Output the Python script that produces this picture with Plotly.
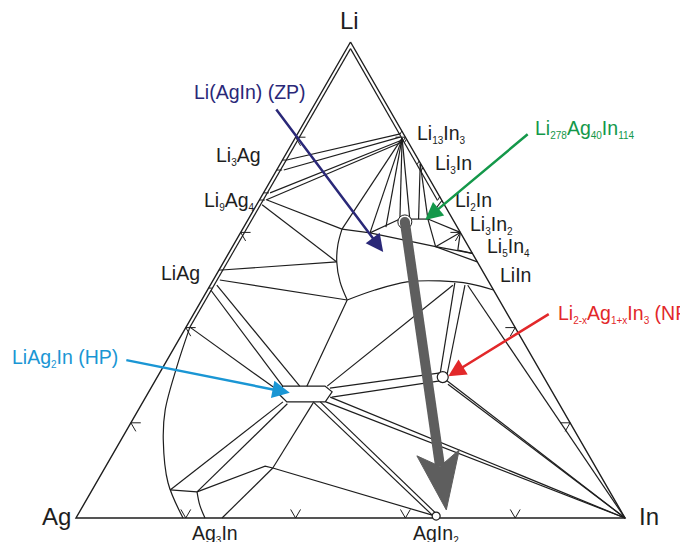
import math
import plotly.graph_objects as go

# ---------------- data: compositions in at.% as (Li, In); Ag = 100 - Li - In ----------------
triangle = [(100, 0), (0, 0), (0, 100), (100, 0)]

bcc_li_solubility = [
    [(98.6, 0.7), (40.1, 0.7)],          # along Li-Ag side
    [(98.6, 0.7), (66.7, 32.5)],         # along Li-In side
]

edge_phase_marks = [
    [(75.2, 0), (75.2, 0.8)], [(73.1, 0), (73.1, 1.0)],
    [(68.3, 0), (68.3, 1.0)], [(66.8, 0), (66.8, 1.0)],
    [(52.1, 0), (52.1, 0.6)], [(48.3, 0), (48.3, 0.6)],
    [(81.3, 18.7), (80.6, 18.7)], [(79.6, 20.4), (78.9, 20.4)],
    [(75.0, 25.0), (74.3, 25.0)], [(73.6, 26.4), (72.9, 26.4)],
    [(67.5, 32.5), (66.8, 32.5)],
]

li13in3_to_li_ag = [
    [(80.7, 18.7), (75.2, 0.8)],
    [(80.0, 19.0), (73.1, 1.3)],
    [(79.4, 19.7), (68.3, 1.2)],
    [(79.0, 19.9), (66.8, 1.2)],
]

li_in_fan = [
    [(79.8, 19.5), (60.7, 18.1)],
    [(79.8, 19.5), (59.9, 23.6)],
    [(79.8, 19.5), (61.1, 25.9)],
    [(79.8, 19.5), (62.8, 27.6)],
    [(79.8, 19.5), (62.8, 29.4)],
    [(74.4, 25.5), (62.8, 31.0)],
    [(74.4, 25.5), (62.8, 32.7)],
    [(66.7, 33.3), (62.8, 32.7)],
    [(62.8, 27.6), (62.8, 32.7)],
    [(62.8, 32.7), (60.0, 40.0)],
    [(62.8, 32.7), (57.0, 37.0)],
    [(57.0, 37.0), (60.0, 40.0)],
    [(57.0, 37.0), (55.6, 44.4)],
    [(60.0, 40.0), (56.3, 41.4), (55.6, 44.4)],
    [(60.7, 18.1), (59.9, 23.6), (62.8, 27.6)],
    [(59.9, 23.6), (57.0, 37.0), (53.8, 46.2)],
]

li_ag_ties = [
    [(66.8, 1.4), (60.7, 18.1)],
    [(65.8, 1.0), (53.8, 20.6)],
    [(52.1, 0.5), (53.8, 20.6)],
    [(50.0, 1.2), (45.8, 26.5)],
    [(48.9, 1.2), (27.7, 26.9)],
    [(47.9, 0.6), (27.7, 23.8)],
    [(40.1, 0.7), (26.5, 23.9)],
]

zp_left_arc = [(60.7, 18.1), (57.4, 19.0), (53.8, 20.6), (49.6, 23.3), (45.8, 26.5)]
zp_lower_arc = [(45.8, 26.5), (47.9, 30.5), (49.6, 35.5), (49.8, 41.4), (49.2, 47.2), (47.9, 52.1)]

hp_region = [(27.7, 23.8), (27.7, 31.5), (26.5, 33.4), (24.4, 33.2), (24.4, 26.2), (26.0, 24.0), (27.7, 23.8)]

hp_np_ties = [
    [(45.8, 26.5), (27.7, 28.2)],
    [(48.9, 44.2), (27.7, 31.9)],
    [(27.3, 32.6), (30.5, 51.1)],
    [(25.4, 33.9), (28.8, 51.9)],
    [(30.5, 51.1), (49.4, 44.3)],
    [(30.2, 52.5), (48.9, 46.4)],
    [(29.0, 52.9), (0, 100)],
    [(28.1, 53.7), (0, 100)],
    [(48.9, 46.9), (0, 100)],
    [(25.4, 33.6), (0, 100)],
    [(24.4, 33.3), (0, 100)],
    [(24.4, 31.0), (0.6, 64.6)],
    [(24.4, 32.3), (0.6, 65.6)],
]

ag_rich_ties = [
    [(24.2, 31.1), (10.5, 30.6)],
    [(24.4, 25.5), (5.9, 14.2)],
    [(24.0, 26.5), (5.5, 19.3)],
    [(5.9, 14.2), (5.5, 19.3)],
    [(5.5, 19.3), (10.9, 29.0), (10.5, 30.6)],
    [(10.5, 30.6), (0, 26.6)],
    [(10.5, 30.6), (0.6, 64.6)],
]
ag3in_boundary = [(5.5, 19.3), (2.7, 21.2), (0, 23.5)]
fcc_ag_arc = [(40.1, 0.7), (31.7, 2.5), (22.7, 4.9), (16.4, 7.7), (7.35, 13.1), (0, 19.5)]

np_point = [(29.6, 52.0)]
agin2_point = [(0.4, 65.4)]

# LT -> AgIn2 reaction path (grey arrow)
path_start = (62.2, 28.8)
path_end = (1.7, 66.6)

# arrow targets of the highlighted phases
zp_target = (55.9, 28.0)
li278_target = (62.6, 32.3)
np_target = (29.8, 52.9)
hp_target = (26.3, 25.8)

grid_ticks = [20, 40, 60, 80]

# ---------------- helpers ----------------
S3 = math.sqrt(3) / 2
INK = "#1e1e1e"
FONT = "Liberation Sans, Arial, sans-serif"
XR = [-2, 102]
YR = [-2, 100 * S3 + 2]


def to_xy(pts):
    xs = [inn + li / 2 for li, inn in pts]
    ys = [li * S3 for li, inn in pts]
    return xs, ys


def add_lines(fig, polylines, color=INK, width=1.2, shape="linear"):
    xs, ys = [], []
    for pl in polylines:
        x, y = to_xy(pl)
        xs += x + [None]
        ys += y + [None]
    fig.add_trace(go.Scatter(x=xs, y=ys, mode="lines", hoverinfo="skip",
                             line=dict(color=color, width=width, shape=shape)))


fig = go.Figure()

# ternary grid tick marks on the edges
tick_len = 1.8
ticks = []
for t in grid_ticks:
    ticks += [[(t, 0), (t, tick_len)], [(t, 0), (t - tick_len, tick_len)]]
    ticks += [[(0, t), (tick_len, t)], [(0, t), (tick_len, t - tick_len)]]
    ticks += [[(t, 100 - t), (t, 100 - t - tick_len)], [(t, 100 - t), (t - tick_len, 100 - t)]]
add_lines(fig, ticks, width=1.0)

add_lines(fig, [triangle], width=1.4)
add_lines(fig, bcc_li_solubility)
add_lines(fig, edge_phase_marks, width=1.0)
add_lines(fig, li13in3_to_li_ag)
add_lines(fig, li_in_fan)
add_lines(fig, li_ag_ties)
add_lines(fig, [zp_left_arc], shape="spline")
add_lines(fig, [zp_lower_arc], shape="spline")
add_lines(fig, [hp_region])
add_lines(fig, hp_np_ties)
add_lines(fig, ag_rich_ties)
add_lines(fig, [ag3in_boundary], shape="spline")
add_lines(fig, [fcc_ag_arc], shape="spline")

# small phase symbols
for pts, size in ((np_point, 11), (agin2_point, 8)):
    x, y = to_xy(pts)
    fig.add_trace(go.Scatter(x=x, y=y, mode="markers", hoverinfo="skip",
                             marker=dict(size=size, color="white", line=dict(color=INK, width=1.2))))

# grey reaction arrow
GREY = "#5e5e5e"
(sx,), (sy,) = to_xy([path_start])
(ex,), (ey,) = to_xy([path_end])
dx, dy = ex - sx, ey - sy
L = math.hypot(dx, dy)
ux, uy = dx / L, dy / L
nx, ny = -uy, ux
head_len, head_half, notch = 10.5, 3.9, 8.0
bx, by = ex - head_len * ux, ey - head_len * uy
mx, my = ex - notch * ux, ey - notch * uy
fig.add_trace(go.Scatter(x=[sx], y=[sy], mode="markers", hoverinfo="skip",
                         marker=dict(size=14, color="white", line=dict(color=INK, width=1))))
fig.add_trace(go.Scatter(x=[sx, mx], y=[sy, my], mode="lines", hoverinfo="skip",
                         line=dict(color=GREY, width=10)))
fig.add_trace(go.Scatter(x=[sx], y=[sy], mode="markers", hoverinfo="skip",
                         marker=dict(size=10, color=GREY)))
fig.add_trace(go.Scatter(
    x=[ex, bx + head_half * nx, mx, bx - head_half * nx, ex],
    y=[ey, by + head_half * ny, my, by - head_half * ny, ey],
    mode="lines", fill="toself", fillcolor=GREY, hoverinfo="skip",
    line=dict(color=GREY, width=1)))

# ---------------- text ----------------
annotations = []


def s(t):
    return "<sub><span style='font-size:10px'>" + t + "</span></sub>"


def label(text, x, y, xanchor="center", size=19.5, color=INK):
    # positions given in the plot's x/y units, placed via paper coordinates so that
    # labels outside the triangle's frame are still drawn
    annotations.append(dict(text=text,
                            x=(x - XR[0]) / (XR[1] - XR[0]),
                            y=(y - YR[0]) / (YR[1] - YR[0]),
                            xref="paper", yref="paper", showarrow=False,
                            xanchor=xanchor, yanchor="middle",
                            font=dict(family=FONT, size=size, color=color)))


label("Li", 49.9, 90.6, size=24)
label("Ag", -3.5, 0.2, size=24)
label("In", 104.4, 0.2, size=24)
label("Li" + s("13") + "In" + s("3"), 61.75, 69.9, "left")
label("Li" + s("3") + "In", 65.0, 64.4, "left")
label("Li" + s("2") + "In", 68.7, 57.7, "left")
label("Li" + s("3") + "In" + s("2"), 71.4, 53.3, "left")
label("Li" + s("5") + "In" + s("4"), 74.5, 49.3, "left")
label("LiIn", 76.9, 44.2, "left")
label("Li" + s("3") + "Ag", 34.1, 65.9, "right")
label("Li" + s("9") + "Ag" + s("4"), 33.0, 57.7, "right")
label("LiAg", 23.0, 44.6, "right")
label("Ag" + s("3") + "In", 25.3, -3.0)
label("AgIn" + s("2"), 65.6, -3.0)

NAVY, GREEN, RED, BLUE = "#2a2878", "#14984a", "#e2282a", "#1a96d4"
label("Li(AgIn) (ZP)", 31.7, 77.5, color=NAVY)
label("Li" + s("278") + "Ag" + s("40") + "In" + s("114"), 83.2, 70.8, "left", color=GREEN)
label("Li" + s("2-x") + "Ag" + s("1+x") + "In" + s("3") + " (NP)", 87.4, 37.1, "left", color=RED)
label("LiAg" + s("2") + "In (HP)", -12.0, 29.1, "left", color=BLUE)


def pointer(target, ax, ay, color):
    (x,), (y,) = to_xy([target])
    annotations.append(dict(text="", x=x, y=y, xref="x", yref="y", ax=ax, ay=ay,
                            showarrow=True, arrowhead=2, arrowsize=1.4, arrowwidth=2.5,
                            arrowcolor=color, standoff=0))


pointer(zp_target, -108, -144, NAVY)
pointer(li278_target, 104, -87, GREEN)
pointer(np_target, 102, -63, RED)
pointer(hp_target, -165, -33, BLUE)

fig.update_layout(
    width=680, height=534,
    margin=dict(l=57.02, r=52.02, t=23.01, b=13.01),
    paper_bgcolor="white", plot_bgcolor="white",
    showlegend=False, hovermode=False,
    xaxis=dict(range=XR, visible=False, fixedrange=True),
    yaxis=dict(range=YR, visible=False, fixedrange=True),
    annotations=annotations,
)

fig.write_html("out.html")
